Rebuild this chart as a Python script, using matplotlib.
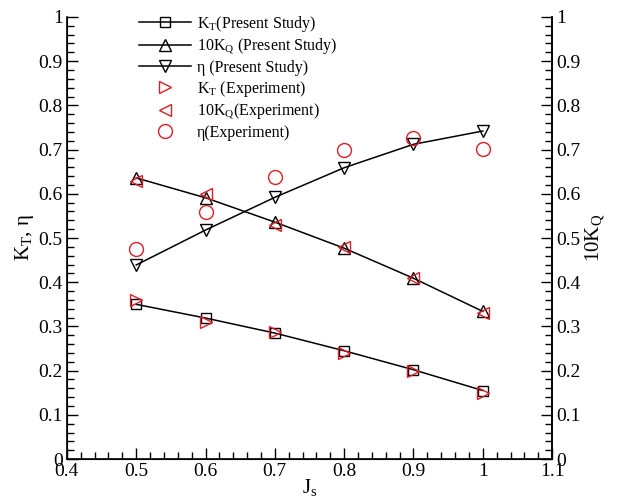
import matplotlib
matplotlib.use("Agg")
from matplotlib import pyplot as plt
from matplotlib.ticker import MultipleLocator

plt.rcParams['font.family'] = ['Liberation Serif', 'DejaVu Serif']
plt.rcParams['mathtext.fontset'] = 'custom'
plt.rcParams['mathtext.rm'] = 'Liberation Serif'
plt.rcParams['mathtext.it'] = 'Liberation Serif:italic'

# advance ratio
js = [0.5, 0.6, 0.7, 0.8, 0.9, 1.0]

# present study (lines)
kt_cfd = [0.350, 0.319, 0.285, 0.245, 0.202, 0.155]
kq10_cfd = [0.636, 0.591, 0.536, 0.477, 0.409, 0.334]
eta_cfd = [0.439, 0.518, 0.592, 0.659, 0.712, 0.742]

# experiment (symbols)
kt_exp = [0.360, 0.310, 0.288, 0.240, 0.199, 0.149]
kq10_exp = [0.630, 0.600, 0.530, 0.480, 0.410, 0.330]
eta_exp = [0.475, 0.559, 0.637, 0.698, 0.727, 0.702]

xticks = [0.4, 0.5, 0.6, 0.7, 0.8, 0.9, 1.0, 1.1]
xticklabels = ['0.4', '0.5', '0.6', '0.7', '0.8', '0.9', '1', '1.1']
yticks = [0, 0.1, 0.2, 0.3, 0.4, 0.5, 0.6, 0.7, 0.8, 0.9, 1]
yticklabels = ['0', '0.1', '0.2', '0.3', '0.4', '0.5', '0.6', '0.7', '0.8', '0.9', '1']

red = '#dc1e26'

fig = plt.figure(figsize=(6.19, 4.99), dpi=100)
ax = fig.add_axes([0.108, 0.080, 0.784, 0.886])

ax.plot(js, kt_cfd, color='black', lw=1.1, marker='s', ms=7, mfc='none', mew=1.0,
        label=r'$\mathrm{K_T}$(Present Study)')
ax.plot(js, kq10_cfd, color='black', lw=1.1, marker='^', ms=8, mfc='none', mew=1.0,
        label=r'10$\mathrm{K_Q}$ (Present Study)')
ax.plot(js, eta_cfd, color='black', lw=1.1, marker='v', ms=8, mfc='none', mew=1.0,
        label='η (Present Study)')
ax.plot(js, kt_exp, ls='none', marker='>', ms=8, mfc='none', mec=red, mew=1.0,
        label=r'$\mathrm{K_T}$ (Experiment)')
ax.plot(js, kq10_exp, ls='none', marker='<', ms=8, mfc='none', mec=red, mew=1.0,
        label=r'10$\mathrm{K_Q}$(Experiment)')
ax.plot(js, eta_exp, ls='none', marker='o', ms=10, mfc='none', mec=red, mew=1.0,
        label='η(Experiment)')

ax.set_xlim(0.4, 1.1)
ax.set_ylim(0, 1)
ax.set_xticks(xticks)
ax.set_xticklabels(xticklabels, fontsize=14)
ax.xaxis.set_minor_locator(MultipleLocator(0.02))
ax.set_yticks(yticks)
ax.set_yticklabels(yticklabels, fontsize=14)
ax.yaxis.set_minor_locator(MultipleLocator(0.02))
ax.tick_params(which='major', direction='in', length=8, width=1, pad=3)
ax.tick_params(which='minor', direction='in', length=5, width=1)
ax.spines['top'].set_visible(False)
for s in ['left', 'right', 'bottom']:
    ax.spines[s].set_linewidth(1.2)

ax.set_xlabel(r'$\mathrm{J_s}$', fontsize=15, labelpad=-2)
ax.set_ylabel(r'$\mathrm{K_T}$, η', fontsize=15, labelpad=2)

ax2 = ax.twinx()
ax2.set_ylim(0, 1)
ax2.set_yticks(yticks)
ax2.set_yticklabels(yticklabels, fontsize=14)
ax2.yaxis.set_minor_locator(MultipleLocator(0.02))
ax2.tick_params(which='major', direction='in', length=8, width=1, pad=3)
ax2.tick_params(which='minor', direction='in', length=5, width=1)
ax2.spines['top'].set_visible(False)
ax2.spines['right'].set_linewidth(1.2)
ax2.set_ylabel(r'10$\mathrm{K_Q}$', fontsize=15, labelpad=2)

ax.legend(loc='upper left', bbox_to_anchor=(0.12, 1.04), frameon=False, fontsize=11.5,
          handlelength=3.2, labelspacing=0.2, handletextpad=0.4)

fig.savefig('out.png', dpi=100)
